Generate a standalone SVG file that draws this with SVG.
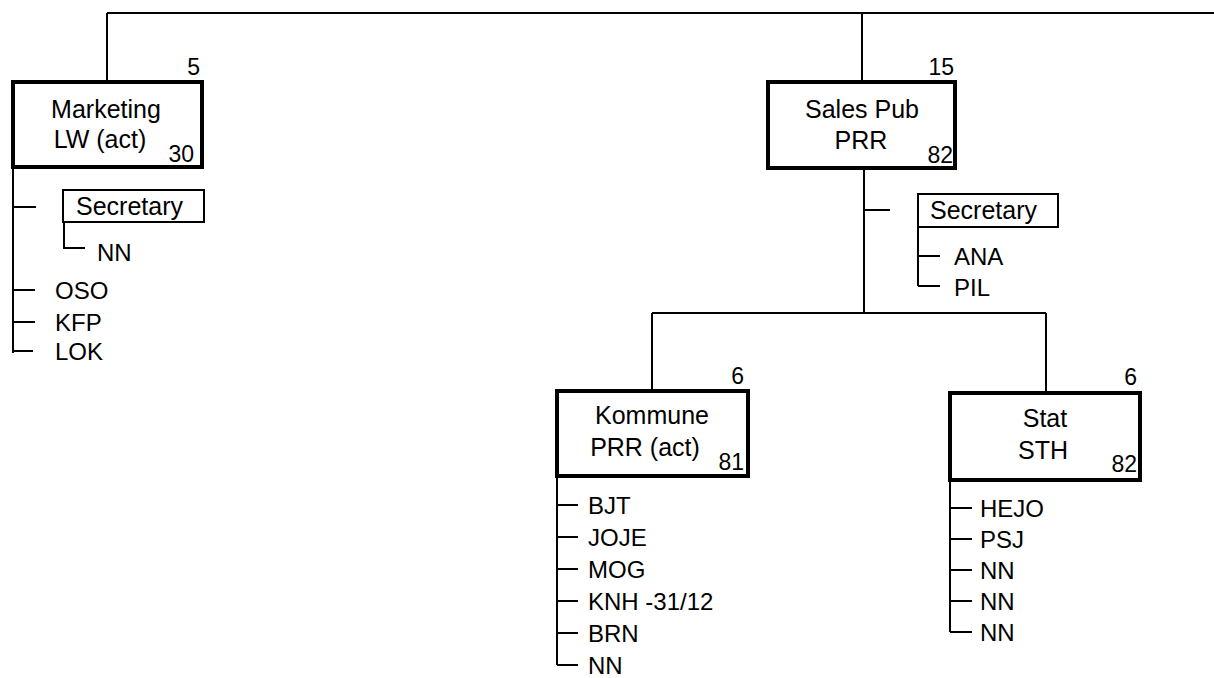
<svg xmlns="http://www.w3.org/2000/svg" width="1214" height="678" viewBox="0 0 1214 678">
<style>
text{font-family:"Liberation Sans",Arial,sans-serif;fill:#000}
.t{font-size:25px;text-anchor:middle}
.n{font-size:23px;text-anchor:end}
.i{font-size:24px}
.s{font-size:25px}
.box{fill:#fff;stroke:#000;stroke-width:4}
.sbox{fill:#fff;stroke:#000;stroke-width:2}
.ln{fill:none;stroke:#000;stroke-width:2}
</style>
<rect width="1214" height="678" fill="#fff"/>
<g id="connectors">
<path class="ln" d="M107 13H1214M107 13V82M862 13V82"/>
<path class="ln" d="M13 167V353M13 207H36M13 290H35M13 322H35M13 351H33"/>
<path class="ln" d="M64 222V248H85"/>
<path class="ln" d="M864 168V313M864 210H890M652 313H1046M652 313V391M1046 313V393"/>
<path class="ln" d="M918 227V286M918 256H940M918 286H940"/>
<path class="ln" d="M557 476V665M557 505H578M557 537H578M557 569H578M557 601H578M557 633H578M557 665H578"/>
<path class="ln" d="M950 480V632M950 508H972M950 539H972M950 570H972M950 601H972M950 632H972"/>
</g>
<g id="marketing">
<rect class="box" x="13" y="82" width="189" height="85"/>
<text class="n" x="200" y="75">5</text>
<text class="t" x="106" y="118">Marketing</text>
<text class="t" x="100" y="148">LW (act)</text>
<text class="n" x="194" y="162">30</text>
</g>
<g id="marketing-secretary">
<rect class="sbox" x="63" y="190" width="141" height="32"/>
<text class="s" x="76" y="215">Secretary</text>
</g>
<g id="marketing-staff">
<text class="i" x="97" y="261">NN</text>
<text class="i" x="55" y="299">OSO</text>
<text class="i" x="55" y="331">KFP</text>
<text class="i" x="55" y="360">LOK</text>
</g>
<g id="salespub">
<rect class="box" x="768" y="82" width="187" height="86"/>
<text class="n" x="954" y="75">15</text>
<text class="t" x="862" y="118">Sales Pub</text>
<text class="t" x="861" y="149">PRR</text>
<text class="n" x="953" y="163">82</text>
</g>
<g id="salespub-secretary">
<rect class="sbox" x="918" y="194" width="140" height="33"/>
<text class="s" x="930" y="219">Secretary</text>
</g>
<g id="salespub-staff">
<text class="i" x="954" y="265">ANA</text>
<text class="i" x="954" y="296">PIL</text>
</g>
<g id="kommune">
<rect class="box" x="557" y="391" width="191" height="85"/>
<text class="n" x="744" y="384">6</text>
<text class="t" x="652" y="424">Kommune</text>
<text class="t" x="645" y="456">PRR (act)</text>
<text class="n" x="744" y="470">81</text>
</g>
<g id="kommune-staff">
<text class="i" x="588" y="514">BJT</text>
<text class="i" x="588" y="546">JOJE</text>
<text class="i" x="588" y="578">MOG</text>
<text class="i" x="588" y="610">KNH -31/12</text>
<text class="i" x="588" y="642">BRN</text>
<text class="i" x="588" y="674">NN</text>
</g>
<g id="stat">
<rect class="box" x="950" y="393" width="190" height="87"/>
<text class="n" x="1137" y="385">6</text>
<text class="t" x="1045" y="427">Stat</text>
<text class="t" x="1043" y="459">STH</text>
<text class="n" x="1137" y="472">82</text>
</g>
<g id="stat-staff">
<text class="i" x="980" y="517">HEJO</text>
<text class="i" x="980" y="548">PSJ</text>
<text class="i" x="980" y="579">NN</text>
<text class="i" x="980" y="610">NN</text>
<text class="i" x="980" y="641">NN</text>
</g>
</svg>
